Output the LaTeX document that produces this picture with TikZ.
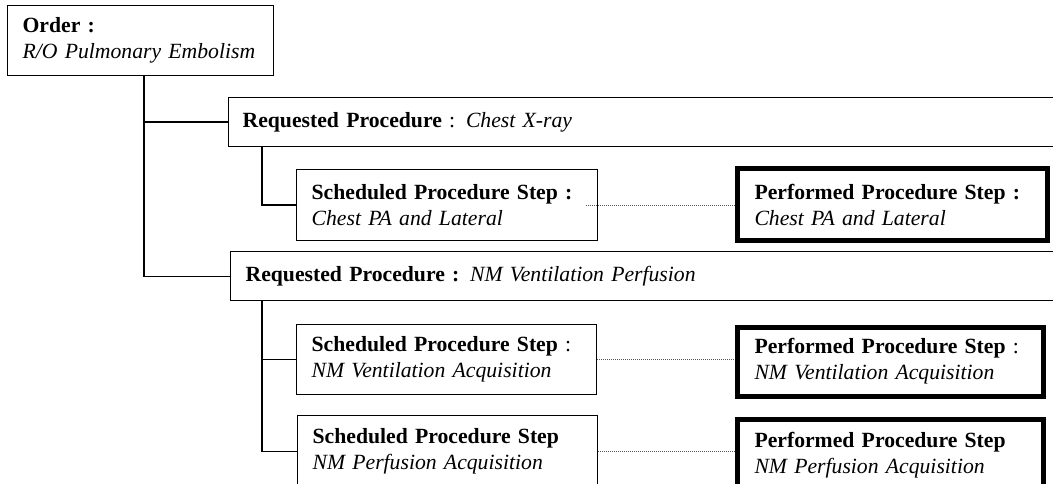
\documentclass[tikz,border=0pt]{standalone}
\usepackage{fontspec}
\setmainfont{Liberation Serif}

\begin{document}
\begin{tikzpicture}[x=1pt,y=-1pt,
  box/.style={draw,line width=1.2pt,anchor=north west,align=left,inner xsep=15pt,inner ysep=0pt,font=\fontsize{21.7}{26}\selectfont},
  ppsbox/.style={box,line width=5pt,inner xsep=17.5pt},
  conn/.style={line width=1.2pt},
  dotline/.style={line width=0.8pt,gray!70!black,dash pattern=on 1pt off 1pt}]
\clip (0,0) rectangle (1053,484);
% order
\node[box,text width=236pt,minimum height=70pt] (order) at (7,5)
  {\textbf{Order :}\\ \textit{R/O Pulmonary Embolism}};
% chest x-ray
\node[box,inner xsep=14pt,text width=820pt,minimum height=49pt] (req1) at (228,97)
  {\textbf{Requested Procedure} : \textit{Chest X-ray}};
\node[box,text width=271pt,minimum height=71pt] (sps1) at (296,169)
  {\textbf{Scheduled Procedure Step :}\\ \textit{Chest PA and Lateral}};
\node[ppsbox,text width=275pt,minimum height=71pt] (pps1) at (734.5,166.5)
  {\textbf{Performed Procedure Step :}\\ \textit{Chest PA and Lateral}};
% nm ventilation perfusion
\node[box,text width=820pt,minimum height=49pt] (req2) at (230,251)
  {\textbf{Requested Procedure :} \textit{NM Ventilation Perfusion}};
\node[box,text width=270pt,minimum height=70pt] (sps2) at (296,324)
  {\textbf{Scheduled Procedure Step} :\\ \textit{NM Ventilation Acquisition}};
\node[ppsbox,text width=271pt,minimum height=69pt] (pps2) at (734.5,324.5)
  {\textbf{Performed Procedure Step} :\\ \textit{NM Ventilation Acquisition}};
\node[box,text width=270pt,minimum height=72pt] (sps3) at (297,415)
  {\textbf{Scheduled Procedure Step}\\ \textit{NM Perfusion Acquisition}};
\node[ppsbox,text width=271pt,minimum height=72pt] (pps3) at (734.5,416.5)
  {\textbf{Performed Procedure Step}\\ \textit{NM Perfusion Acquisition}};
% tree lines
\coordinate (trunk) at ([xshift=137pt]order.south west);
\coordinate (r1stem) at ([xshift=34pt]req1.south west);
\coordinate (r2stem) at ([xshift=32pt]req2.south west);
\draw[conn] (trunk) |- (req2.west);
\draw[conn] (trunk |- req1.west) -- (req1.west);
\draw[conn] (r1stem) |- (sps1.west);
\draw[conn] (r2stem) |- (sps3.west);
\draw[conn] (r2stem |- sps2.west) -- (sps2.west);
% links to performed steps
\draw[dotline] ([xshift=-12pt]sps1.east) -- (sps1.east -| pps1.west);
\foreach \s/\p in {sps2/pps2, sps3/pps3}
  \draw[dotline] (\s.east) -- (\s.east -| \p.west);
\end{tikzpicture}
\end{document}
